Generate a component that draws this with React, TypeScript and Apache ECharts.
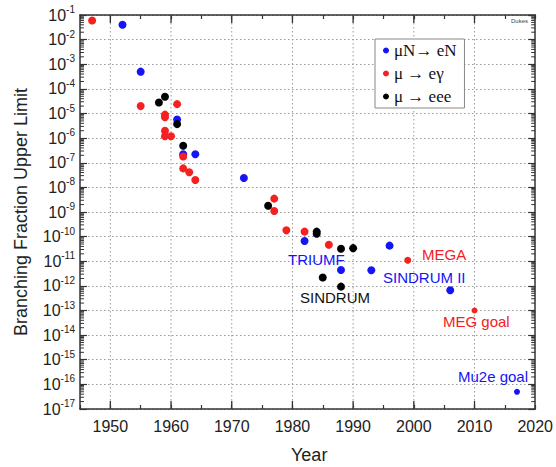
import React, { useEffect, useRef } from "react";
import * as echarts from "echarts";

const FONT = "Arial, 'Liberation Sans', Helvetica, sans-serif";
const SERIF = "'Times New Roman', 'Liberation Serif', serif";

const BLUE = "#1414f5";
const RED = "#f52020";
const BLACK = "#000000";

// μN → eN
const muNYears = [1952, 1955, 1961, 1962, 1964, 1972, 1982, 1988, 1993, 1996, 2006, 2017];
const muNValues = [4e-2, 5e-4, 5.7e-6, 2.2e-7, 2.2e-7, 2.4e-8, 6.6e-11, 4.4e-12, 4.3e-12, 4.3e-11, 6.6e-13, 5e-17];

// μ → eγ
const muEgYears = [1947, 1955, 1959, 1959, 1959, 1959, 1960, 1961, 1962, 1962, 1963, 1964, 1977, 1977, 1979, 1982, 1986, 1999, 2010];
const muEgValues = [6e-2, 2e-5, 9e-6, 7e-6, 2e-6, 1.2e-6, 1.2e-6, 2.4e-5, 1.8e-7, 5.9e-8, 4.1e-8, 2e-8, 3.5e-9, 1.1e-9, 1.8e-10, 1.6e-10, 4.7e-11, 1.1e-11, 1e-13];

// μ → eee
const muEeeYears = [1958, 1959, 1961, 1962, 1976, 1984, 1984, 1985, 1988, 1988, 1990];
const muEeeValues = [2.8e-5, 4.8e-5, 3.7e-6, 4.9e-7, 1.8e-9, 1.6e-10, 1.3e-10, 2.2e-12, 3.2e-11, 9.3e-13, 3.4e-11];

const seriesNames = ["μN→ eN", "μ → eγ", "μ → eee"];
const goalYears = [2010, 2017];

const xMin = 1945;
const xMax = 2020;
const yMin = 1e-17;
const yMax = 1e-1;
const decadeYears = [1950, 1960, 1970, 1980, 1990, 2000, 2010];

const minorTickValues: number[] = [];
for (let e = -17; e < -1; e++) {
  for (let m = 2; m <= 9; m++) minorTickValues.push(m * Math.pow(10, e));
}

const annotations = [
  { text: "TRIUMF", x: 288, y: 261, color: BLUE },
  { text: "SINDRUM", x: 300, y: 299, color: "#111" },
  { text: "SINDRUM II", x: 383, y: 279, color: BLUE },
  { text: "MEGA", x: 422, y: 256, color: RED },
  { text: "MEG goal", x: 443, y: 323, color: RED },
  { text: "Mu2e goal", x: 458, y: 378, color: BLUE },
];

function zip(xs: number[], ys: number[]) {
  return xs.map((x, i) => [x, ys[i]]);
}

export default function App() {
  const ref = useRef<HTMLDivElement>(null);
  useEffect(() => {
    if (!ref.current) return;
    const chart = echarts.init(ref.current, null, { renderer: "svg" });
    const sizeFn = (v: number[]) => (goalYears.includes(v[0]) ? 6 : v[0] === 1999 ? 7 : 8);
    const axisLine = { show: true, lineStyle: { color: "#333", width: 1.5 } };
    const option: any = {
      animation: false,
      backgroundColor: "#fff",
      grid: { left: 80, top: 15, right: 18, bottom: 58 },
      legend: {
        orient: "vertical",
        left: 375,
        top: 39,
        icon: "circle",
        itemWidth: 6,
        itemHeight: 6,
        itemGap: 6,
        padding: [3, 8, 3, 8],
        borderColor: "#888",
        borderWidth: 1,
        backgroundColor: "#fff",
        textStyle: { fontFamily: SERIF, fontSize: 17, color: "#111" },
        data: seriesNames,
      },
      xAxis: [
        {
          type: "value",
          position: "bottom",
          min: xMin,
          max: xMax,
          interval: 5,
          axisLine,
          axisTick: { show: true, inside: true, length: 4, lineStyle: { color: "#333", width: 1.2 } },
          axisLabel: {
            margin: 9,
            fontFamily: FONT,
            fontSize: 16,
            color: "#222",
            formatter: (v: number) => (v % 10 === 0 ? String(v) : ""),
          },
          splitLine: { show: false },
        },
        {
          type: "value",
          position: "top",
          min: xMin,
          max: xMax,
          interval: 5,
          axisLine,
          axisTick: { show: true, inside: true, length: 4, lineStyle: { color: "#333", width: 1.2 } },
          axisLabel: { show: false },
          splitLine: { show: false },
        },
      ],
      yAxis: [
        {
          type: "log",
          logBase: 10,
          position: "left",
          min: yMin,
          max: yMax,
          interval: 1,
          axisLine,
          axisTick: { show: true, inside: true, length: 7, lineStyle: { color: "#333", width: 1.2 } },
          axisLabel: {
            margin: 5,
            formatter: (v: number) => `{b|10}{s|${Math.round(Math.log10(v))}}`,
            rich: {
              b: { fontFamily: FONT, fontSize: 16, color: "#222" },
              s: { fontFamily: FONT, fontSize: 10, color: "#222", padding: [0, 0, 11, 0] },
            },
          },
          splitLine: { show: true, lineStyle: { type: [1.5, 2.5], color: "#999", width: 1 } },
        },
        {
          type: "log",
          logBase: 10,
          position: "right",
          min: yMin,
          max: yMax,
          interval: 1,
          axisLine,
          axisTick: { show: true, inside: true, length: 7, lineStyle: { color: "#333", width: 1.2 } },
          axisLabel: { show: false },
          splitLine: { show: false },
        },
      ],
      series: [
        {
          type: "custom",
          name: "xgrid",
          z: 1,
          silent: true,
          data: decadeYears.map((y) => [y, yMax]),
          renderItem: (params: any, api: any) => {
            const x = api.value(0);
            const top = api.coord([x, yMax]);
            const bot = api.coord([x, yMin]);
            return {
              type: "group",
              children: [
                {
                  type: "line",
                  shape: { x1: top[0], y1: top[1], x2: bot[0], y2: bot[1] },
                  style: { stroke: "#999", lineWidth: 1, lineDash: [1.5, 2.5] },
                },
                {
                  type: "line",
                  shape: { x1: bot[0], y1: bot[1], x2: bot[0], y2: bot[1] - 8 },
                  style: { stroke: "#333", lineWidth: 1.3 },
                },
                {
                  type: "line",
                  shape: { x1: top[0], y1: top[1], x2: top[0], y2: top[1] + 8 },
                  style: { stroke: "#333", lineWidth: 1.3 },
                },
              ],
            };
          },
        },
        {
          type: "custom",
          name: "yminor",
          z: 2,
          silent: true,
          data: minorTickValues.map((v) => [xMin, v]),
          renderItem: (params: any, api: any) => {
            const v = api.value(1);
            const l = api.coord([xMin, v]);
            const r = api.coord([xMax, v]);
            return {
              type: "group",
              children: [
                {
                  type: "line",
                  shape: { x1: l[0], y1: l[1], x2: l[0] + 4, y2: l[1] },
                  style: { stroke: "#333", lineWidth: 1 },
                },
                {
                  type: "line",
                  shape: { x1: r[0], y1: r[1], x2: r[0] - 4, y2: r[1] },
                  style: { stroke: "#333", lineWidth: 1 },
                },
              ],
            };
          },
        },
        {
          type: "scatter",
          name: seriesNames[0],
          z: 5,
          symbolSize: sizeFn,
          itemStyle: { color: BLUE, opacity: 1 },
          data: zip(muNYears, muNValues),
        },
        {
          type: "scatter",
          name: seriesNames[1],
          z: 5,
          symbolSize: sizeFn,
          itemStyle: { color: RED, opacity: 1 },
          data: zip(muEgYears, muEgValues),
        },
        {
          type: "scatter",
          name: seriesNames[2],
          z: 6,
          symbolSize: sizeFn,
          itemStyle: { color: BLACK, opacity: 1 },
          data: zip(muEeeYears, muEeeValues),
        },
      ],
      graphic: [
        ...annotations.map((a) => ({
          type: "text",
          left: a.x,
          top: a.y - 9,
          z: 10,
          style: { text: a.text, fill: a.color, fontFamily: FONT, fontSize: 15 },
        })),
        {
          type: "text",
          x: 21,
          y: 212,
          rotation: Math.PI / 2,
          style: {
            text: "Branching Fraction Upper Limit",
            fill: "#222",
            fontFamily: FONT,
            fontSize: 18,
            textAlign: "center",
            textVerticalAlign: "middle",
            verticalAlign: "middle",
          },
        },
        {
          type: "text",
          left: 291,
          top: 446,
          style: {
            text: "Year",
            fill: "#222",
            fontFamily: FONT,
            fontSize: 18,
          },
        },
        {
          type: "text",
          left: 511,
          top: 18,
          style: { text: "Dukes", fill: "#444", fontFamily: FONT, fontSize: 6 },
        },
      ],
    };
    chart.setOption(option);
    return () => chart.dispose();
  }, []);
  return (
    <div
      ref={ref}
      style={{ position: "absolute", left: 0, top: 0, width: 556, height: 467, overflow: "hidden" }}
    />
  );
}
